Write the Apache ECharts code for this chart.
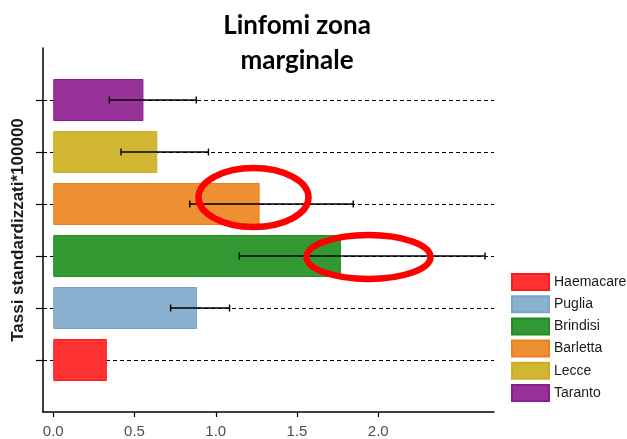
<!DOCTYPE html>
<html>
<head>
<meta charset="utf-8">
<script src="https://cdn.jsdelivr.net/npm/echarts@6/dist/echarts.min.js"></script>
<style>
  html, body { margin: 0; padding: 0; background: #fff; }
  #chart { width: 627px; height: 439px; }
</style>
</head>
<body>
<div id="chart"></div>
<script>
// categories bottom -> top, with an empty slot at each end for padding
const categories = ['', 'Haemacare', 'Puglia', 'Brindisi', 'Barletta', 'Lecce', 'Taranto', '']
const regions = ['Haemacare', 'Puglia', 'Brindisi', 'Barletta', 'Lecce', 'Taranto']
const rates = [0.33, 0.885, 1.77, 1.27, 0.64, 0.555]
// confidence intervals (Haemacare has none)
const ciLow = [null, 0.722, 1.145, 0.84, 0.417, 0.345]
const ciHigh = [null, 1.085, 2.657, 1.846, 0.955, 0.88]
const xTicks = [0, 0.5, 1, 1.5, 2]

const fills = ['#FF3333', '#8AB1CF', '#339933', '#ED9033', '#D1B632', '#973298']
const borders = ['#FF1A1A', '#7AA5C8', '#228B22', '#EC7F1A', '#CCAE22', '#8E1E90']

const chart = echarts.init(document.getElementById('chart'))

const barSeries = regions.map((name, i) => {
  const data = categories.map(() => '-')
  data[i + 1] = rates[i]
  return {
    name: name,
    type: 'bar',
    data: data,
    barWidth: 42,
    barGap: '-100%',
    itemStyle: { color: fills[i], borderColor: borders[i], borderWidth: 1 },
    silent: true
  }
})

const errData = []
regions.forEach((name, i) => {
  if (ciLow[i] != null) errData.push([ciLow[i], ciHigh[i], i + 1])
})

const option = {
  animation: false,
  grid: { left: 43, right: 133, top: 48, bottom: 26 },
  legend: {
    orient: 'vertical',
    left: 506,
    top: 268,
    itemWidth: 37,
    itemHeight: 16,
    itemGap: 4.2,
    icon: 'rect',
    data: regions,
    textStyle: { fontFamily: 'Liberation Sans', fontSize: 14, color: '#1a1a1a' }
  },
  xAxis: {
    type: 'value',
    min: -0.063,
    max: 2.712,
    axisLine: { show: true, lineStyle: { color: '#000', width: 1.5 } },
    axisTick: { show: true, customValues: xTicks, length: 5, lineStyle: { color: '#000', width: 1.2 } },
    axisLabel: {
      customValues: xTicks,
      formatter: v => v.toFixed(1),
      fontFamily: 'Liberation Sans',
      fontSize: 15,
      color: '#4D4D4D',
      margin: 12
    },
    splitLine: { show: false }
  },
  yAxis: {
    type: 'category',
    data: categories,
    boundaryGap: false,
    name: 'Tassi standardizzati*100000',
    nameLocation: 'middle',
    nameGap: 16,
    nameTextStyle: { fontFamily: 'Liberation Sans', fontWeight: 'bold', fontSize: 17, color: '#1a1a1a' },
    axisLine: { show: true, onZero: false, lineStyle: { color: '#000', width: 1.5 } },
    axisTick: {
      show: true,
      length: 7,
      interval: idx => idx > 0 && idx < categories.length - 1,
      lineStyle: { color: '#000', width: 1.2 }
    },
    axisLabel: { show: false },
    splitLine: {
      show: true,
      interval: idx => idx > 0 && idx < categories.length - 1,
      lineStyle: { color: '#000', type: [4, 3], width: 1.2 }
    }
  },
  series: barSeries.concat([{
    type: 'custom',
    silent: true,
    z: 5,
    data: errData,
    renderItem: (params, api) => {
      const lo = api.coord([api.value(0), api.value(2)])
      const hi = api.coord([api.value(1), api.value(2)])
      const cap = 3.5
      const style = { stroke: '#000', lineWidth: 1.4 }
      return {
        type: 'group',
        children: [
          { type: 'line', shape: { x1: lo[0], y1: lo[1], x2: hi[0], y2: hi[1] }, style: style },
          { type: 'line', shape: { x1: lo[0], y1: lo[1] - cap, x2: lo[0], y2: lo[1] + cap }, style: style },
          { type: 'line', shape: { x1: hi[0], y1: hi[1] - cap, x2: hi[0], y2: hi[1] + cap }, style: style }
        ]
      }
    }
  }]),
  graphic: [
    {
      type: 'text',
      x: 297,
      y: 8,
      style: {
        text: 'Linfomi zona\nmarginale',
        font: 'bold 26px Lato',
        fill: '#000',
        align: 'center',
        lineHeight: 35
      }
    },
    // red hand-drawn highlight ovals
    { type: 'ellipse', z: 10, shape: { cx: 253.5, cy: 197.5, rx: 55, ry: 29.5 }, style: { fill: 'none', stroke: '#FF0000', lineWidth: 6.5 } },
    { type: 'ellipse', z: 10, shape: { cx: 368.5, cy: 257, rx: 62, ry: 22 }, style: { fill: 'none', stroke: '#FF0000', lineWidth: 6.5 } }
  ]
}

chart.setOption(option)
</script>
</body>
</html>
